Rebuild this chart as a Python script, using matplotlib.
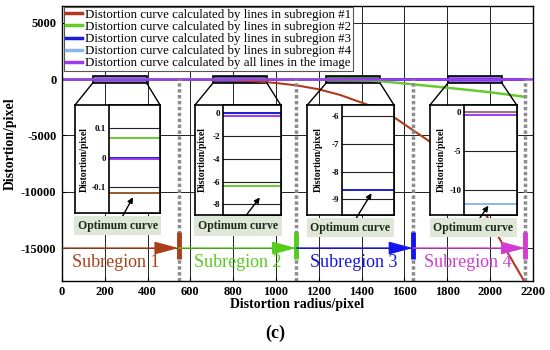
import numpy as np
import matplotlib
matplotlib.use('Agg')
import matplotlib.pyplot as plt
from matplotlib.patches import Rectangle
from matplotlib.lines import Line2D

plt.rcParams['font.family'] = ['Liberation Serif', 'DejaVu Serif']
plt.rcParams['axes.unicode_minus'] = False

#%% data
r_red = [0, 600, 800, 900, 1000, 1100, 1200, 1300, 1425, 1557, 1721, 1900, 2040, 2165]
d_red = [0, -20, -90, -180, -340, -560, -900, -1400, -2250, -3450, -5570, -9300, -14000, -18100]
r_green = [0, 1100, 1200, 1300, 1440, 1600, 1800, 2000, 2165]
d_green = [0, 0, -10, -40, -100, -380, -760, -1160, -1570]
r_sub = [0, 2165]
d_blue = [0, 0]
d_lblue = [0, 0]
r_all = [0, 2200]
d_all = [0, 0]

labels = ['Distortion curve calculated by lines in subregion #1',
          'Distortion curve calculated by lines in subregion #2',
          'Distortion curve calculated by lines in subregion #3',
          'Distortion curve calculated by lines in subregion #4',
          'Distortion curve calculated by all lines in the image']
c_red, c_green, c_blue, c_lblue, c_purple = '#b23a1c', '#66cc2e', '#1c1cd8', '#8cb6ea', '#9a3cf2'

edges = [0, 545, 1095, 1640, 2165]
sub_names = ['Subregion 1', 'Subregion 2', 'Subregion 3', 'Subregion 4']
sub_x = [250, 820, 1365, 1895]
sub_cols = ['#a9401a', '#55cc1c', '#1414ee', '#d23cd2']
arrow_y = -15000

# zoom windows on the main curve
zoom_x0 = [143, 705, 1234, 1803]
zoom_w = 253
zoom_y0, zoom_y1 = -355, 240
zoom_fill = ['#8d67e0', '#5b4a9c', '#4f7f48', '#9468e0']

# inset contents
ins_ylim = [(-0.187, 0.177), (-8.94, 0.73), (-9.565, -5.60), (-13.2, 0.94)]
ins_ticks = [[-0.1, 0, 0.1], [-8, -6, -4, -2, 0], [-9, -8, -7, -6], [-10, -5, 0]]
ins_ticklab = [['-0.1', '0', '0.1'], ['-8', '-6', '-4', '-2', '0'], ['-9', '-8', '-7', '-6'], ['-10', '-5', '0']]
ins1_vals = [0.067, 0.0, -0.004, -0.12]
ins1_cols = [c_green, c_blue, c_purple, '#9a5a2a']
ins2_vals = [0.0, -0.2, -6.42]
ins2_cols = [c_blue, c_purple, c_green]
ins3_vals = [-8.66]
ins3_cols = [c_blue]
ins4_vals = [0.0, -0.35, -11.74]
ins4_cols = ['#a87078', c_purple, c_lblue]
ins_vals = [ins1_vals, ins2_vals, ins3_vals, ins4_vals]
ins_cols = [ins1_cols, ins2_cols, ins3_cols, ins4_cols]
tip_fx = [0.47, 0.64, 0.57, 0.46]
tip_y = [-0.133, -7.4, -8.78, -12.0]

#%% layout (pixels of a 550x350 canvas)
W, H = 550., 350.
def fbox(x0, x1, y0, y1):
    return [x0/W, 1-y1/H, (x1-x0)/W, (y1-y0)/H]

ins_px = [(75, 109, 160, 213.3), (195, 222.7, 280.7, 215),
          (307.3, 341.7, 394, 215), (430, 464.3, 516.7, 215)]
ins_top = 105
lab_px = [(117.5, 225.5), (238, 226), (350.5, 227.5), (473.3, 227.5)]
ylab_fx = [-0.40, -0.27, -0.36, -0.345]

fig = plt.figure(figsize=(5.5, 3.5), dpi=100)
ax = fig.add_axes(fbox(62, 532.7, 6, 280.7))
ax.set_xlim(0, 2200)
ax.set_ylim(-17900, 6500)
ax.set_xticks(np.arange(0, 2201, 200))
ax.set_yticks([-15000, -10000, -5000, 0, 5000])
ax.grid(True, color='#222222', lw=0.7)
ax.set_axisbelow(True)
ax.tick_params(direction='in', length=3, labelsize=9, pad=4)
for t in ax.get_xticklabels() + ax.get_yticklabels():
    t.set_fontweight('bold')
for s in ax.spines.values():
    s.set_linewidth(1.0)

ax.plot(r_sub, d_lblue, color=c_lblue, lw=1.8, zorder=2)
ax.plot(r_sub, d_blue, color=c_blue, lw=1.8, zorder=2)
ax.plot(r_red, d_red, color=c_red, lw=1.5, zorder=2)
ax.plot(r_green, d_green, color=c_green, lw=1.8, zorder=2)
ax.plot(r_all, d_all, color=c_purple, lw=1.8, zorder=2.1)

ax.vlines(edges[1:], -17900, 0, color='#8c8c8c', lw=2.5, linestyle=(0, (1, 0.7)), zorder=2.5)

for i in range(4):
    ax.annotate('', xy=(edges[i+1], arrow_y), xytext=(edges[i], arrow_y),
                arrowprops=dict(arrowstyle='-|>,head_length=1.5,head_width=0.4',
                                mutation_scale=10, color=sub_cols[i], lw=1,
                                shrinkA=0, shrinkB=0), zorder=3)
    ax.vlines(edges[i+1], -16000, -13600, color=sub_cols[i], lw=3.5, zorder=3)
    ax.text(sub_x[i], -16250, sub_names[i], color=sub_cols[i], fontsize=13,
            ha='center', va='center', zorder=3)

for i in range(4):
    ax.add_patch(Rectangle((zoom_x0[i], zoom_y0), zoom_w, zoom_y1-zoom_y0,
                           fc=zoom_fill[i], ec='k', lw=1.2, zorder=1.8))
    # trapezoid legs to the inset box
    x0p, xip, x1p, y1p = ins_px[i]
    inv = ax.transData.inverted()
    bl = inv.transform((x0p, H-ins_top))
    br = inv.transform((x1p, H-ins_top))
    ax.plot([zoom_x0[i], bl[0]], [zoom_y0, bl[1]], color='k', lw=1.0, zorder=4, clip_on=False)
    ax.plot([zoom_x0[i]+zoom_w, br[0]], [zoom_y0, br[1]], color='k', lw=1.0, zorder=4, clip_on=False)

handles = [Line2D([], [], color=c, lw=2.5) for c in [c_red, c_green, c_blue, c_lblue, c_purple]]
leg = ax.legend(handles, labels, loc='upper left',
                bbox_to_anchor=(2/470.7, 1-1/274.7), borderaxespad=0,
                fontsize=9.3, handlelength=1.25, handletextpad=0.2,
                labelspacing=0.0, borderpad=0.15, fancybox=False, framealpha=1)
leg.get_frame().set_edgecolor('#555555')
leg.get_frame().set_linewidth(0.8)

ax.set_xlabel('Distortion radius/pixel', fontsize=10, fontweight='bold')
ax.xaxis.set_label_coords(0.5, -0.063)
ax.xaxis.label.set_va('top')
ax.set_ylabel('Distortion/pixel', fontsize=10, fontweight='bold')
ax.yaxis.set_label_coords(-0.0956, 0.5)

#%% insets
for i in range(4):
    x0p, xip, x1p, y1p = ins_px[i]
    fa = fig.add_axes(fbox(x0p, x1p, ins_top, y1p))
    fa.set_xticks([])
    fa.set_yticks([])
    for s in fa.spines.values():
        s.set_linewidth(1.2)
    ia = fig.add_axes(fbox(xip, x1p, ins_top, y1p))
    ia.set_xticks([])
    ia.set_ylim(*ins_ylim[i])
    ia.set_yticks(ins_ticks[i])
    ia.set_yticklabels(ins_ticklab[i], fontsize=6.5, fontweight='bold')
    ia.tick_params(length=0, pad=2)
    ia.yaxis.grid(True, color='#222222', lw=0.8)
    ia.set_axisbelow(True)
    for s in ia.spines.values():
        s.set_linewidth(1.2)
    for v, c in zip(ins_vals[i], ins_cols[i]):
        ia.axhline(v, color=c, lw=1.4)
    ia.set_ylabel('Distortion/pixel', fontsize=7, fontweight='bold')
    ia.yaxis.set_label_coords(ylab_fx[i], 0.5)
    lx, ly = lab_px[i]
    ia.annotate('Optimum curve', xy=(tip_fx[i], tip_y[i]), xycoords=('axes fraction', 'data'),
                xytext=(lx/W, 1-ly/H), textcoords='figure fraction',
                ha='center', va='center', fontsize=8.5, fontweight='bold', color='#1e2a1e',
                bbox=dict(boxstyle='square,pad=0.3', fc='#dfe8d6', ec='none'),
                arrowprops=dict(arrowstyle='-|>', color='k', lw=1, mutation_scale=8,
                                shrinkA=0, shrinkB=0))

fig.text(275/W, 1-333/H, '(c)', fontsize=13, fontweight='bold', ha='center', va='center')

fig.savefig('out.png', dpi=100, facecolor='w')
